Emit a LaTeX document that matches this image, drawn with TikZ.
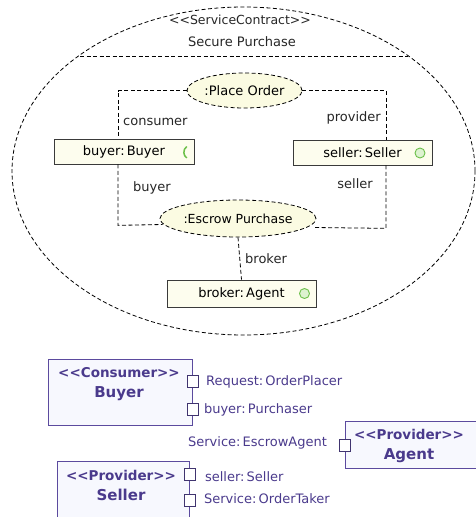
\documentclass[tikz,border=0pt]{standalone}
\usepackage{fontspec}
\setmainfont{DejaVu Sans}
\usetikzlibrary{shapes.geometric}
\definecolor{paleyellow}{HTML}{FDFDEE}
\definecolor{ovalfill}{HTML}{FBFBE2}
\definecolor{roleborder}{HTML}{3A3A3A}
\definecolor{svgreen}{HTML}{6CC04A}
\definecolor{svgreenfill}{HTML}{DDF2D0}
\definecolor{umlpurple}{HTML}{5B4A9E}
\definecolor{umltext}{HTML}{4A3A8C}
\definecolor{classfill}{HTML}{F7F8FE}
\tikzset{
  dashln/.style={dash pattern=on 4pt off 2.5pt},
  collab/.style={ellipse,draw,dashln,fill=ovalfill,inner sep=0pt,line width=0.8pt},
  role/.style={draw=roleborder,fill=paleyellow,rectangle,inner sep=0pt,line width=0.7pt,
    font=\fontsize{13}{15}\selectfont},
  conn/.style={draw,dashln,line width=0.8pt},
  lbl/.style={font=\fontsize{13}{15}\selectfont,text=black!85,inner sep=0pt},
  cls/.style={draw=umlpurple,fill=classfill,rectangle,line width=0.8pt,inner sep=0pt},
  clstitle/.style={text=umltext,align=center,inner sep=0pt,font=\fontsize{13}{20}\selectfont},
  port/.style={draw=umlpurple!70!black,fill=white,rectangle,minimum width=11pt,minimum height=12pt,inner sep=0pt,line width=0.7pt},
  plbl/.style={font=\fontsize{13}{15}\selectfont,text=umltext,inner sep=0pt}
}
\newcommand{\stereo}[1]{{\fontsize{13.5}{20}\selectfont\bfseries<{}<#1>{}>}}
\newcommand{\clsname}[1]{{\fontsize{15}{20}\selectfont\bfseries #1}}
\begin{document}
\begin{tikzpicture}[x=1pt,y=1pt]
  \useasboundingbox (0,0) rectangle (476,-517);
  % service contract
  \draw[dashln,line width=0.8pt] (243.5,-171) ellipse [x radius=231.5,y radius=164];
  \node[lbl,font=\fontsize{12.5}{14}\selectfont] (stype) at (240,-20) {<{}<ServiceContract>{}>};
  \node[lbl] (sname) at (242,-42) {Secure Purchase};
  \draw[dashln,line width=0.8pt] (80,-56) -- (408,-56);

  % collaborations
  \node[collab,minimum width=115pt,minimum height=35pt,font=\fontsize{13}{15}\selectfont] (po) at (244.5,-90.5) {:Place Order};
  \node[collab,minimum width=156pt,minimum height=37pt,font=\fontsize{12.5}{15}\selectfont] (ep) at (238,-218.5) {:Escrow Purchase};

  % roles
  \node[role,minimum width=140pt,minimum height=25pt] (buyer) at (124,-151.5) {buyer:\,Buyer};
  \node[role,minimum width=139pt,minimum height=25pt] (seller) at (362.5,-152.5) {seller:\,Seller};
  \node[role,minimum width=149pt,minimum height=27pt] (broker) at (241.5,-293.5) {broker:\,Agent};
  \draw[svgreen,line width=1.5pt] (186.8,-146.5) arc[start angle=125,end angle=235,radius=7];
  \filldraw[draw=svgreen,fill=svgreenfill,line width=0.9pt] (420,-153) circle (5);
  \filldraw[draw=svgreen,fill=svgreenfill,line width=0.9pt] (304.5,-293.5) circle (5);

  % bindings
  \draw[conn] (po.west) -| ([xshift=-6pt]buyer.north);
  \draw[conn] (po.east) -| ([xshift=23.5pt]seller.north);
  \draw[conn] ([xshift=-6pt]buyer.south) -- ++(0,-61) -- ([xshift=3pt,yshift=-6pt]ep.west);
  \draw[conn] ([xshift=23.5pt]seller.south) -- ++(0,-63) -- ([xshift=-2pt,yshift=-9pt]ep.east);
  \draw[conn] (ep.south) -- (broker.north);
  \node[lbl,anchor=west] (lcons) at (123,-122) {consumer};
  \node[lbl,anchor=east] (lprov) at (381,-118) {provider};
  \node[lbl,anchor=west] (lbuy) at (133,-188) {buyer};
  \node[lbl,anchor=east] (lsell) at (373,-184) {seller};
  \node[lbl,anchor=west] (lbrok) at (245,-259) {broker};

  % participants
  \node[cls,minimum width=144pt,minimum height=66pt] (Buyer) at (120,-392) {};
  \node[clstitle] (BuyerT) at (119,-384) {\stereo{Consumer}\\\clsname{Buyer}};
  \node[cls,minimum width=133pt,minimum height=47pt] (Agent) at (411.5,-444.5) {};
  \node[clstitle] (AgentT) at (409,-445.5) {\stereo{Provider}\\\clsname{Agent}};
  \node[cls,minimum width=132pt,minimum height=80pt] (Seller) at (123,-501) {};
  \node[clstitle] (SellerT) at (121,-485.5) {\stereo{Provider}\\\clsname{Seller}};

  % ports
  \node[port] (preq) at (193,-381.5) {};
  \node[port] (ppur) at (193,-409.5) {};
  \node[port] (pesc) at (345,-445) {};
  \node[port] (psel) at (190,-474) {};
  \node[port] (ptak) at (190,-500.5) {};
  \node[plbl,anchor=west] (lreq) at ([xshift=7pt]preq.east) {Request:\,OrderPlacer};
  \node[plbl,anchor=west] (lpur) at ([xshift=5pt]ppur.east) {buyer:\,Purchaser};
  \node[plbl,anchor=east] (lesc) at ([xshift=-12pt,yshift=2pt]pesc.west) {Service:\,EscrowAgent};
  \node[plbl,anchor=west] (lsel) at ([xshift=9pt,yshift=-3pt]psel.east) {seller:\,Seller};
  \node[plbl,anchor=west] (ltak) at ([xshift=8pt,yshift=2pt]ptak.east) {Service:\,OrderTaker};
\end{tikzpicture}
\end{document}
